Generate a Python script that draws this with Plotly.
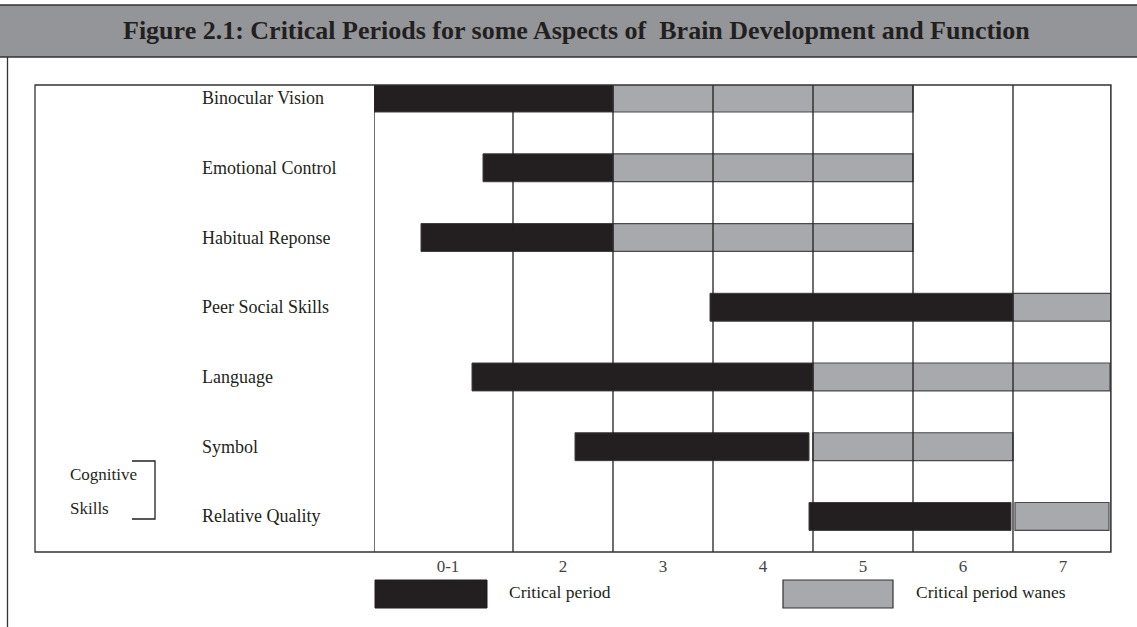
import plotly.graph_objects as go

# ---- data ----
rows = ["Binocular Vision", "Emotional Control", "Habitual Reponse",
        "Peer Social Skills", "Language", "Symbol", "Relative Quality"]
crit_start = [0.11, 1.20, 0.58, 3.47, 1.09, 2.12, 4.46]
crit_end = [2.50, 2.50, 2.50, 6.50, 4.50, 4.46, 6.48]
wane_start = [2.50, 2.50, 2.50, 6.50, 4.50, 4.50, 6.52]
wane_end = [5.50, 5.50, 5.50, 7.48, 7.47, 6.50, 7.46]

tick_vals = [0.85, 2, 3, 4, 5, 6, 7]
tick_text = ["0-1", "2", "3", "4", "5", "6", "7"]
col_bounds = [0.11, 1.5, 2.5, 3.5, 4.5, 5.5, 6.5, 7.48]

title = "Figure 2.1: Critical Periods for some Aspects of  Brain Development and Function"

# ---- layout geometry (pixels) ----
W, H = 1137, 627
L, R, T, B = 374, 1111, 85, 552
DARK = "#231f20"
GRAY = "#a7a9ac"
SERIF = "Liberation Serif, Times New Roman, serif"


def px(x):
    return (x - L) / (R - L)


def py(y):
    return (B - y) / (B - T)


fig = go.Figure()
fig.add_trace(go.Bar(
    y=rows, x=[e - s for s, e in zip(crit_start, crit_end)], base=crit_start,
    orientation="h", width=0.40, name="Critical period",
    marker=dict(color=DARK, line=dict(color="#3c3c3c", width=1)),
    hoverinfo="skip"))
fig.add_trace(go.Bar(
    y=rows, x=[e - s for s, e in zip(wane_start, wane_end)], base=wane_start,
    orientation="h", width=0.40, name="Critical period wanes",
    marker=dict(color=GRAY, line=dict(color="#4a4a4a", width=1.2)),
    hoverinfo="skip"))

shapes = []
# column lines drawn above bars
for xb in col_bounds:
    shapes.append(dict(type="line", xref="x", yref="paper", x0=xb, x1=xb,
                       y0=0, y1=1, layer="above",
                       line=dict(color=DARK, width=1.3)))
# chart frame
shapes.append(dict(type="rect", xref="paper", yref="paper",
                   x0=px(35), x1=1, y0=0, y1=1, layer="above",
                   line=dict(color="#333333", width=1.3)))
# title banner
shapes.append(dict(type="rect", xref="paper", yref="paper",
                   x0=px(-2), x1=px(W + 2), y0=py(57), y1=py(5), layer="below",
                   fillcolor="#939598", line=dict(color="#333333", width=1.5)))
# left page border
shapes.append(dict(type="line", xref="paper", yref="paper",
                   x0=px(7.5), x1=px(7.5), y0=py(57), y1=py(H + 2),
                   line=dict(color="#333333", width=1.3)))
# cognitive skills bracket
shapes.append(dict(type="path", xref="paper", yref="paper",
                   path=f"M {px(132)} {py(461)} L {px(155)} {py(461)} L {px(155)} {py(519)} L {px(132)} {py(519)}",
                   line=dict(color=DARK, width=1.3)))
# legend swatches
shapes.append(dict(type="rect", xref="paper", yref="paper",
                   x0=px(375), x1=px(487), y0=py(608), y1=py(580),
                   fillcolor=DARK, line=dict(color=DARK, width=1)))
shapes.append(dict(type="rect", xref="paper", yref="paper",
                   x0=px(783), x1=px(893), y0=py(608), y1=py(580),
                   fillcolor=GRAY, line=dict(color="#333333", width=1.2)))

annotations = []
for r in rows:
    annotations.append(dict(text=r, xref="paper", yref="y", x=px(200), y=r,
                            xanchor="left", yanchor="middle", showarrow=False,
                            font=dict(family=SERIF, size=18, color=DARK)))
annotations += [
    dict(text="<b>" + title + "</b>", xref="paper", yref="paper",
         x=px(576), y=py(30), xanchor="center", yanchor="middle",
         showarrow=False, font=dict(family=SERIF, size=26, color=DARK)),
    dict(text="Cognitive", xref="paper", yref="paper", x=px(68), y=py(474),
         xanchor="left", yanchor="middle", showarrow=False,
         font=dict(family=SERIF, size=17, color=DARK)),
    dict(text="Skills", xref="paper", yref="paper", x=px(68), y=py(508),
         xanchor="left", yanchor="middle", showarrow=False,
         font=dict(family=SERIF, size=17, color=DARK)),
    dict(text="Critical period", xref="paper", yref="paper", x=px(507), y=py(592),
         xanchor="left", yanchor="middle", showarrow=False,
         font=dict(family=SERIF, size=17.5, color=DARK)),
    dict(text="Critical period wanes", xref="paper", yref="paper", x=px(914), y=py(592),
         xanchor="left", yanchor="middle", showarrow=False,
         font=dict(family=SERIF, size=17.5, color=DARK)),
]

fig.update_layout(
    width=W, height=H,
    margin=dict(l=L, r=W - R, t=T, b=H - B, pad=0),
    paper_bgcolor="white", plot_bgcolor="white",
    barmode="overlay", showlegend=False,
    shapes=shapes, annotations=annotations,
    xaxis=dict(range=[col_bounds[0], col_bounds[-1]], tickvals=tick_vals,
               ticktext=tick_text, showgrid=False, zeroline=False,
               showline=False, ticks="", ticklabelstandoff=2,
               tickfont=dict(family=SERIF, size=17, color="#444444"),
               fixedrange=True),
    yaxis=dict(categoryorder="array", categoryarray=rows,
               range=[6.51, -0.187], showticklabels=False, showgrid=False,
               zeroline=False, showline=False, ticks="", fixedrange=True),
)

fig.write_html("out.html", config={"displayModeBar": False},
               post_script="document.body.style.margin='0';document.body.style.padding='0';")
